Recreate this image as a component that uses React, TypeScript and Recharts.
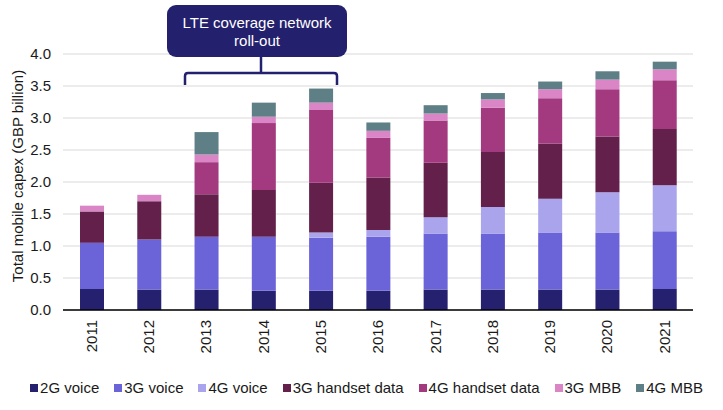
import React from 'react';
import { BarChart, Bar, XAxis, YAxis, CartesianGrid, Label } from 'recharts';

const years = ['2011', '2012', '2013', '2014', '2015', '2016', '2017', '2018', '2019', '2020', '2021'];
const voice2G = [0.33, 0.32, 0.32, 0.30, 0.30, 0.30, 0.32, 0.32, 0.32, 0.32, 0.33];
const voice3G = [0.72, 0.78, 0.825, 0.845, 0.83, 0.845, 0.87, 0.87, 0.89, 0.89, 0.90];
const voice4G = [0, 0, 0, 0, 0.08, 0.105, 0.26, 0.42, 0.53, 0.63, 0.72];
const handset3G = [0.49, 0.60, 0.665, 0.73, 0.78, 0.82, 0.85, 0.86, 0.86, 0.87, 0.88];
const handset4G = [0, 0, 0.50, 1.045, 1.135, 0.62, 0.66, 0.69, 0.71, 0.74, 0.76];
const mbb3G = [0.09, 0.10, 0.12, 0.10, 0.115, 0.11, 0.11, 0.13, 0.14, 0.15, 0.17];
const mbb4G = [0, 0, 0.35, 0.22, 0.22, 0.13, 0.13, 0.10, 0.12, 0.13, 0.12];
const yTicks = [0, 0.5, 1.0, 1.5, 2.0, 2.5, 3.0, 3.5, 4.0];

const seriesNames = ['2G voice', '3G voice', '4G voice', '3G handset data', '4G handset data', '3G MBB', '4G MBB'];
const seriesKeys = ['voice2G', 'voice3G', 'voice4G', 'handset3G', 'handset4G', 'mbb3G', 'mbb4G'];
const seriesColors = ['#25216F', '#6B63D8', '#A9A4EC', '#62204B', '#A3397E', '#DA86C6', '#5E7F86'];
const seriesValues = [voice2G, voice3G, voice4G, handset3G, handset4G, mbb3G, mbb4G];

const data = years.map((year, i) => {
  const row: Record<string, string | number> = { year };
  seriesKeys.forEach((k, j) => {
    row[k] = seriesValues[j][i];
  });
  return row;
});

const FONT = '"Liberation Sans", Arial, sans-serif';

const XTick = (props: any) => {
  const { x, y, payload } = props;
  return (
    <text
      x={x}
      y={y}
      transform={`rotate(-90 ${x} ${y})`}
      textAnchor="end"
      dy="0.35em"
      fontSize={15}
      fontFamily={FONT}
      fill="#1a1a1a"
    >
      {payload.value}
    </text>
  );
};

export default function App() {
  return (
    <div style={{ position: 'absolute', left: 0, top: 0, width: 723, height: 410, background: '#fff', fontFamily: FONT }}>
      <BarChart
        width={723}
        height={410}
        data={data}
        margin={{ top: 54, right: 30, left: 0, bottom: 50 }}
        barSize={24}
      >
        <CartesianGrid vertical={false} stroke="#d9d9d9" strokeWidth={1} />
        <XAxis
          dataKey="year"
          tickLine={false}
          axisLine={{ stroke: '#000', strokeWidth: 1.5 }}
          tick={<XTick />}
          tickMargin={4}
          height={50}
          interval={0}
        />
        <YAxis
          width={63}
          domain={[0, 4]}
          ticks={yTicks}
          tickFormatter={(v: number) => v.toFixed(1)}
          tickLine={false}
          axisLine={false}
          tickMargin={6}
          tick={{ fontSize: 15, fontFamily: FONT, fill: '#1a1a1a' }}
        >
          <Label
            content={(p: any) => {
              const vb = p.viewBox;
              const cx = 23;
              const cy = vb.y + vb.height / 2 - 6;
              return (
                <text
                  x={cx}
                  y={cy}
                  transform={`rotate(-90 ${cx} ${cy})`}
                  textAnchor="middle"
                  fontSize={15}
                  fontFamily={FONT}
                  fill="#1a1a1a"
                >
                  Total mobile capex (GBP billion)
                </text>
              );
            }}
          />
        </YAxis>
        {seriesKeys.map((k, j) => (
          <Bar key={k} dataKey={k} name={seriesNames[j]} stackId="a" fill={seriesColors[j]} isAnimationActive={false} />
        ))}
      </BarChart>

      <svg
        width={723}
        height={410}
        style={{ position: 'absolute', left: 0, top: 0, pointerEvents: 'none' }}
      >
        <rect x={167} y={5} width={180} height={52} rx={9} ry={9} fill="#23206E" />
        <text x={257} y={28} textAnchor="middle" fontSize={15} fontFamily={FONT} fill="#fff">
          LTE coverage network
        </text>
        <text x={257} y={46} textAnchor="middle" fontSize={15} fontFamily={FONT} fill="#fff">
          roll-out
        </text>
        <path d="M261,57 L261,73" stroke="#23206E" strokeWidth={2.5} fill="none" />
        <path
          d="M185,85 L185,76 Q185,73 188,73 L334,73 Q337,73 337,76 L337,85"
          stroke="#23206E"
          strokeWidth={2.5}
          fill="none"
        />
      </svg>

      <div
        style={{
          position: 'absolute',
          left: 0,
          top: 379,
          width: 733,
          display: 'flex',
          justifyContent: 'center',
          gap: 15,
          fontSize: 15,
          color: '#1a1a1a',
          fontFamily: FONT,
          whiteSpace: 'nowrap',
          lineHeight: '18px',
        }}
      >
        {seriesNames.map((n, j) => (
          <div key={n} style={{ display: 'flex', alignItems: 'center' }}>
            <span style={{ display: 'inline-block', width: 8, height: 8, background: seriesColors[j], marginRight: 2 }} />
            <span>{n}</span>
          </div>
        ))}
      </div>
    </div>
  );
}
